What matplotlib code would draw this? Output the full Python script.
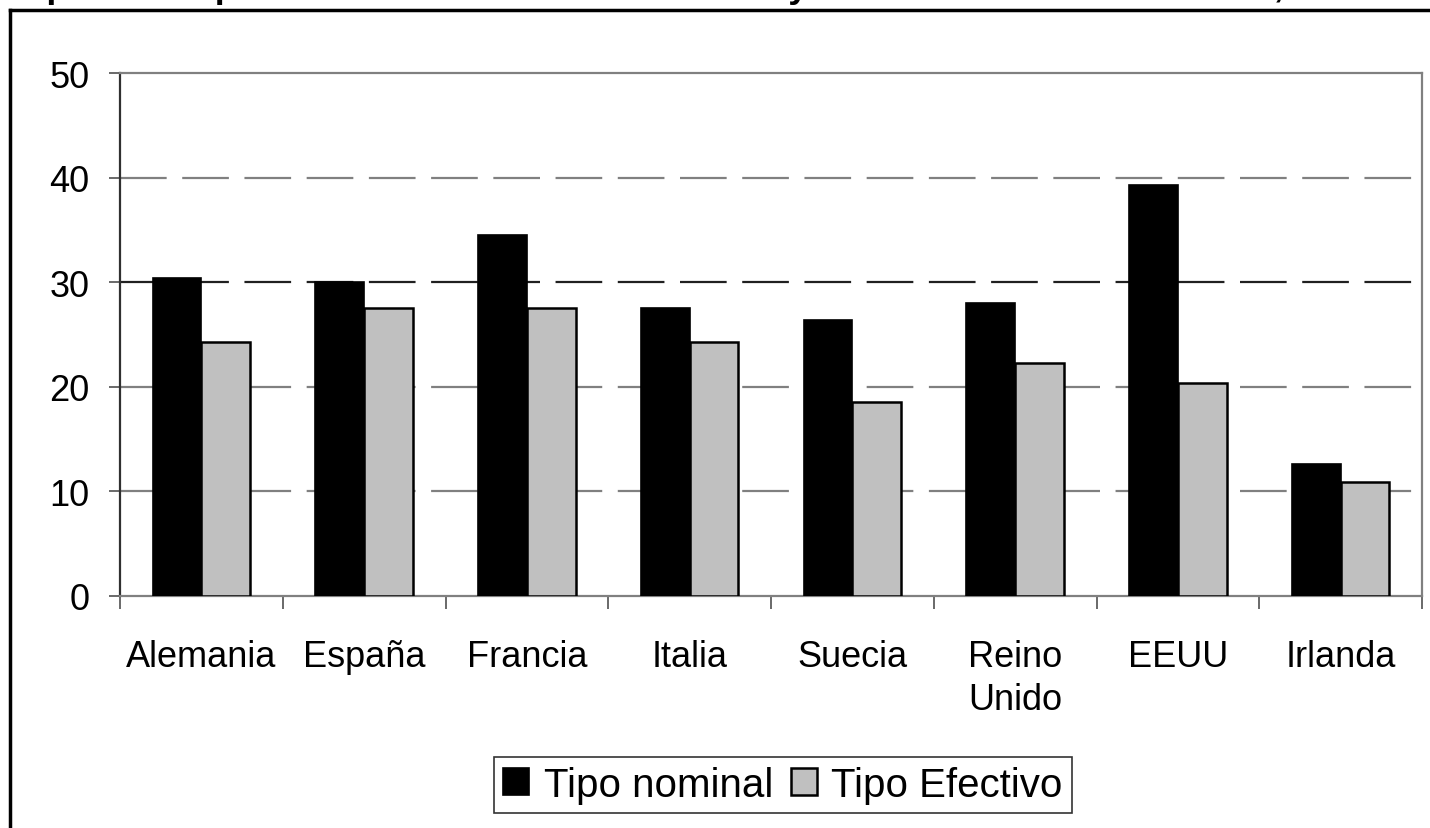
import matplotlib
matplotlib.use("Agg")
import matplotlib.pyplot as plt
from matplotlib.lines import Line2D
import numpy as np

plt.rcParams['font.family'] = ['Liberation Sans', 'DejaVu Sans']

# data
paises = ['Alemania', 'España', 'Francia', 'Italia', 'Suecia', 'Reino\nUnido', 'EEUU', 'Irlanda']
tipo_nominal = [30.4, 30.0, 34.5, 27.5, 26.4, 28.0, 39.3, 12.6]
tipo_efectivo = [24.3, 27.5, 27.5, 24.3, 18.5, 22.3, 20.4, 10.9]
y_ticks = [0, 10, 20, 30, 40, 50]

W, H = 1430, 829
fig = plt.figure(figsize=(W / 100, H / 100), dpi=100)
ax = fig.add_axes([120 / W, 1 - 597 / H, 1302 / W, 523 / H])

x = np.arange(len(paises))
bw = 0.3
ax.bar(x - bw / 2, tipo_nominal, bw, color='black', edgecolor='black', linewidth=1.2,
       label='Tipo nominal', zorder=3)
ax.bar(x + bw / 2, tipo_efectivo, bw, color='#c0c0c0', edgecolor='black', linewidth=1.8,
       label='Tipo Efectivo', zorder=3)

ax.set_xlim(-0.5, len(paises) - 0.5)
ax.set_ylim(0, 50)

# dashed gridlines
for v in y_ticks[1:-1]:
    col = '#202020' if v == 30 else '#808080'
    ax.axhline(v, color=col, linewidth=1.6, dashes=(21, 7), zorder=1)

ax.set_yticks(y_ticks)
ax.set_yticklabels([str(v) for v in y_ticks])
ax.set_xticks(np.arange(len(paises) + 1) - 0.5, minor=False)
ax.set_xticklabels([])
ax.set_xticks(x, minor=True)
ax.set_xticklabels(paises, minor=True)

ax.tick_params(axis='y', direction='out', length=8, width=1.2, color='#505050',
               labelsize=26, pad=14)
ax.tick_params(axis='x', which='major', direction='out', length=9, width=1.2,
               color='#505050')
ax.tick_params(axis='x', which='minor', length=0, labelsize=26, pad=31)
for lab in ax.get_xticklabels(minor=True):
    lab.set_linespacing(1.3)

for s in ['top', 'right', 'bottom']:
    ax.spines[s].set_color('#808080')
    ax.spines[s].set_linewidth(1.6)
ax.spines['left'].set_color('#303030')
ax.spines['left'].set_linewidth(1.6)

leg = fig.legend(loc='center', bbox_to_anchor=(783 / W, 1 - 786 / H), ncol=2,
                 fontsize=29, frameon=True, fancybox=False, handlelength=0.65,
                 handleheight=0.65, handletextpad=0.35, columnspacing=0.45,
                 borderpad=0.22, borderaxespad=0)
leg.get_frame().set_edgecolor('black')
leg.get_frame().set_linewidth(1.2)

# outer frame of the original slide
fig.add_artist(Line2D([10 / W, 1], [1 - 11 / H, 1 - 11 / H], transform=fig.transFigure,
                      color='black', linewidth=2.5))
fig.add_artist(Line2D([10 / W, 10 / W], [0, 1 - 11 / H], transform=fig.transFigure,
                      color='black', linewidth=2.5))

# title cut off at the top edge, only descenders show
fig.text(15 / W, 1 + 3 / H, 'Tipos de impuesto sobre beneficios nominal y efectivo de las sociedades, 2005',
         fontsize=26, fontweight='bold', ha='left', va='baseline')

fig.savefig('out.png', dpi=100)
